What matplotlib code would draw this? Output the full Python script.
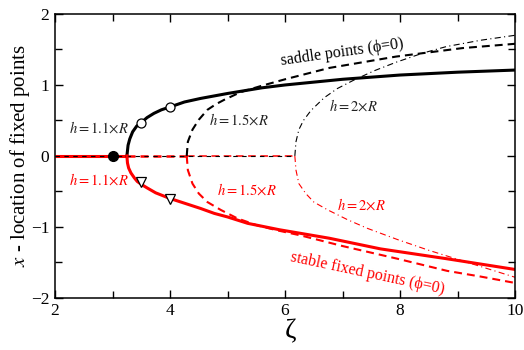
import matplotlib
matplotlib.use("Agg")
import matplotlib.pyplot as plt

plt.rcParams['font.family'] = ['Liberation Serif', 'DejaVu Serif']
plt.rcParams['mathtext.fontset'] = 'stix'

RED = '#ff0000'

# Bifurcation points (onset of the side branches) for each h
zeta_c = [3.25, 4.29, 6.17]

# h = 1.1 x R : saddle branch (upper) and stable branch (lower)
z11_up = [3.25, 3.27, 3.30, 3.35, 3.42, 3.50, 3.60, 3.72, 3.85, 4.00, 4.25, 4.53, 5.00, 5.60, 6.00, 7.00, 8.00, 9.00, 10.0]
x11_up = [0.00, 0.15, 0.24, 0.34, 0.42, 0.47, 0.54, 0.60, 0.65, 0.69, 0.76, 0.81, 0.88, 0.96, 1.00, 1.08, 1.14, 1.18, 1.21]
z11_lo = [3.25, 3.26, 3.28, 3.32, 3.38, 3.43, 3.50, 3.60, 3.75, 4.00, 4.19, 4.53, 4.77, 5.00, 5.35, 5.90, 6.77, 7.66, 8.82, 10.0]
x11_lo = [0.00, -0.10, -0.17, -0.24, -0.31, -0.36, -0.40, -0.45, -0.52, -0.60, -0.65, -0.74, -0.81, -0.86, -0.95, -1.04, -1.16, -1.31, -1.45, -1.60]

# h = 1.5 x R
z15_up = [4.29, 4.31, 4.39, 4.50, 4.65, 4.80, 4.94, 5.23, 5.60, 6.00, 6.77, 7.93, 9.09, 10.0]
x15_up = [0.00, 0.20, 0.37, 0.51, 0.65, 0.73, 0.79, 0.90, 0.99, 1.08, 1.24, 1.40, 1.52, 1.58]
z15_lo = [4.29, 4.31, 4.39, 4.50, 4.65, 4.88, 5.17, 5.52, 5.87, 6.27, 7.00, 7.96, 8.82, 9.40, 10.0]
x15_lo = [0.00, -0.20, -0.39, -0.53, -0.65, -0.76, -0.88, -0.98, -1.05, -1.12, -1.27, -1.45, -1.62, -1.70, -1.79]

# h = 2 x R
z20_up = [6.17, 6.19, 6.24, 6.32, 6.45, 6.68, 6.91, 7.20, 7.55, 7.93, 8.40, 8.80, 9.40, 10.0]
x20_up = [0.00, 0.20, 0.37, 0.50, 0.64, 0.82, 0.95, 1.07, 1.20, 1.32, 1.45, 1.54, 1.63, 1.70]
z20_lo = [6.17, 6.19, 6.24, 6.36, 6.50, 6.74, 7.09, 7.43, 7.96, 8.50, 9.17, 10.0]
x20_lo = [0.00, -0.20, -0.39, -0.53, -0.65, -0.76, -0.90, -1.02, -1.18, -1.33, -1.50, -1.71]

# Marked states
z_start, x_start = [3.0], [0.0]
z_marks = [3.5, 4.0]
x_marks_up = [0.47, 0.69]
x_marks_lo = [-0.37, -0.61]

fig = plt.figure(figsize=(5.24, 3.5), dpi=100)
ax = fig.add_axes([0.105, 0.149, 0.878, 0.811])

dash = (3.8, 2.4)
dashdot = (5.5, 3.0, 1.0, 3.0)

# trivial branch x = 0
ax.plot([2.0, zeta_c[0]], [0, 0], color=RED, lw=2.2, solid_capstyle='butt')
ax.plot([zeta_c[0], zeta_c[1]], [0, 0], color=RED, lw=1.8, dashes=(3.2, 2.0))
ax.plot([zeta_c[1], zeta_c[2]], [0, 0], color=RED, lw=1.1, dashes=(5, 3))
ax.plot([2.0, zeta_c[2]], [0, 0], color='black', lw=0.8, dashes=(4, 4))

# h = 1.1 R (solid)
ax.plot(z11_up, x11_up, color='black', lw=2.2)
ax.plot(z11_lo, x11_lo, color=RED, lw=2.2)
# h = 1.5 R (dashed)
ax.plot(z15_up, x15_up, color='black', lw=1.5, dashes=dash)
ax.plot(z15_lo, x15_lo, color=RED, lw=1.5, dashes=dash)
# h = 2 R (dash-dot)
ax.plot(z20_up, x20_up, color='black', lw=0.8, dashes=dashdot)
ax.plot(z20_lo, x20_lo, color=RED, lw=0.8, dashes=dashdot)

ax.plot(z_start, x_start, 'o', color='black', ms=7, zorder=5)
ax.plot(z_marks, x_marks_up, 'o', mfc='white', mec='black', mew=0.9, ms=6.5, zorder=5)
ax.plot(z_marks, x_marks_lo, 'v', mfc='white', mec='black', mew=0.9, ms=7, zorder=5)

# labels on the curves
lab = 10.5
ax.text(2.24, 0.40, r'$h = 1.1{\times}R$', color='#222222', fontsize=lab, va='center')
ax.text(2.24, -0.33, r'$h = 1.1{\times}R$', color=RED, fontsize=lab, va='center')
ax.text(4.67, 0.51, r'$h = 1.5{\times}R$', color='#222222', fontsize=lab, va='center')
ax.text(4.82, -0.47, r'$h = 1.5{\times}R$', color=RED, fontsize=lab, va='center')
ax.text(6.77, 0.71, r'$h = 2{\times}R$', color='#222222', fontsize=lab, va='center')
ax.text(6.91, -0.69, r'$h = 2{\times}R$', color=RED, fontsize=lab, va='center')

ax.text(7.0, 1.46, 'saddle points (\u03d5=0)', color='black', fontsize=11.5,
        rotation=8, ha='center', va='center', rotation_mode='anchor')
ax.text(7.44, -1.65, 'stable fixed points (\u03d5=0)', color=RED, fontsize=11.5,
        rotation=-12, ha='center', va='center', rotation_mode='anchor')

ax.set_xlim(2, 10)
ax.set_ylim(-2, 2)
ax.set_xticks([2, 4, 6, 8, 10])
ax.set_xticks([3, 5, 7, 9], minor=True)
ax.set_yticks([-2, -1, 0, 1, 2])
ax.set_yticks([-1.5, -0.5, 0.5, 1.5], minor=True)
ax.tick_params(which='both', direction='in', top=True, right=True, labelsize=12.5, width=1)
ax.tick_params(which='major', length=6, pad=4)
ax.tick_params(which='minor', length=5)
for s in ax.spines.values():
    s.set_linewidth(1.1)

ax.set_xlabel('\u03b6', fontsize=20, labelpad=0)
ax.xaxis.label.set_position((0.512, 0))
ax.set_ylabel(r'$x$ - location of fixed points', fontsize=15, labelpad=-1)

fig.savefig('out.png', dpi=100)
